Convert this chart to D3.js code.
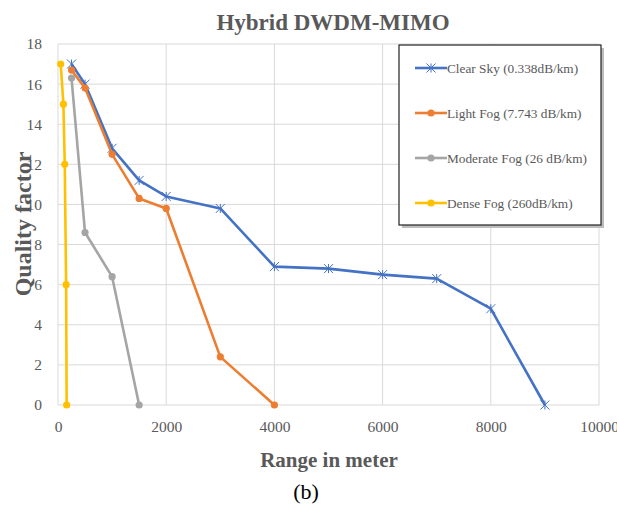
<!DOCTYPE html>
<html>
<head>
<meta charset="utf-8">
<script src="https://cdn.jsdelivr.net/npm/d3@7"></script>
<style>
  body { margin: 0; background: #fff; }
</style>
</head>
<body>
<script>
// series data
const seriesNames = [
  "Clear Sky (0.338dB/km)",
  "Light Fog (7.743 dB/km)",
  "Moderate Fog (26 dB/km)",
  "Dense Fog (260dB/km)"
];
const clearSkyRange = [250, 500, 1000, 1500, 2000, 3000, 4000, 5000, 6000, 7000, 8000, 9000];
const clearSkyQ = [17.0, 16.0, 12.8, 11.2, 10.4, 9.8, 6.9, 6.8, 6.5, 6.3, 4.8, 0];
const lightFogRange = [250, 500, 1000, 1500, 2000, 3000, 4000];
const lightFogQ = [16.7, 15.8, 12.5, 10.3, 9.8, 2.4, 0];
const moderateFogRange = [250, 500, 1000, 1500];
const moderateFogQ = [16.3, 8.6, 6.4, 0];
const denseFogRange = [50, 100, 125, 150, 160];
const denseFogQ = [17.0, 15.0, 12.0, 6.0, 0];

const xTicks = [0, 2000, 4000, 6000, 8000, 10000];
const yTicks = [0, 2, 4, 6, 8, 10, 12, 14, 16, 18];

const FONT = '"Liberation Serif"';
const colors = ["#4472C4", "#ED7D31", "#A5A5A5", "#FFC000"];
const markers = ["star", "circle", "circle", "circle"];

const series = [
  [clearSkyRange, clearSkyQ],
  [lightFogRange, lightFogQ],
  [moderateFogRange, moderateFogQ],
  [denseFogRange, denseFogQ]
].map(([xs, ys], i) => ({
  name: seriesNames[i],
  color: colors[i],
  marker: markers[i],
  values: xs.map((x, j) => ({ x: x, y: ys[j] }))
}));

const width = 617;
const height = 509;
const margin = { top: 44, right: 18, bottom: 104, left: 58 };

const svg = d3.select("body")
  .append("svg")
  .attr("width", width)
  .attr("height", height);

const x = d3.scaleLinear().domain([0, 10000]).range([margin.left, width - margin.right]);
const y = d3.scaleLinear().domain([0, 18]).range([height - margin.bottom, margin.top]);

// gridlines
svg.append("g")
  .selectAll("line.h")
  .data(yTicks)
  .enter()
  .append("line")
  .attr("x1", x(0)).attr("x2", x(10000))
  .attr("y1", d => y(d)).attr("y2", d => y(d))
  .attr("stroke", "#d9d9d9").attr("stroke-width", 1);

svg.append("g")
  .selectAll("line.v")
  .data(xTicks)
  .enter()
  .append("line")
  .attr("x1", d => x(d)).attr("x2", d => x(d))
  .attr("y1", y(0)).attr("y2", y(18))
  .attr("stroke", "#d9d9d9").attr("stroke-width", 1);

// axes (labels only, Excel style)
const xAxis = svg.append("g")
  .attr("transform", `translate(0,${y(0) + 13})`)
  .call(d3.axisBottom(x).tickValues(xTicks).tickSize(0).tickFormat(d3.format("d")));
xAxis.attr("font-family", null).attr("font-size", null);
xAxis.select(".domain").remove();
xAxis.selectAll("text")
  .attr("fill", "#595959")
  .style("font-size", "15.5px")
  .style("font-family", FONT);

const yAxis = svg.append("g")
  .attr("transform", `translate(${x(0) - 13},0)`)
  .call(d3.axisLeft(y).tickValues(yTicks).tickSize(0));
yAxis.attr("font-family", null).attr("font-size", null);
yAxis.select(".domain").remove();
yAxis.selectAll("text")
  .attr("fill", "#595959")
  .style("font-size", "15.5px")
  .style("font-family", FONT);

// lines
const line = d3.line().x(d => x(d.x)).y(d => y(d.y));

const gSeries = svg.append("g")
  .selectAll("g.series")
  .data(series)
  .enter()
  .append("g");

gSeries.append("path")
  .attr("d", d => line(d.values))
  .attr("fill", "none")
  .attr("stroke", d => d.color)
  .attr("stroke-width", 2.6)
  .attr("stroke-linejoin", "round");

function drawMarker(sel, s, cx, cy) {
  if (s.marker === "circle") {
    sel.append("circle")
      .attr("cx", cx).attr("cy", cy).attr("r", 3.6)
      .attr("fill", s.color);
  } else {
    const r = 4.5;
    const p = `M${cx - r},${cy - r}L${cx + r},${cy + r}M${cx - r},${cy + r}L${cx + r},${cy - r}M${cx},${cy - r}L${cx},${cy + r}`;
    sel.append("path")
      .attr("d", p)
      .attr("stroke", s.color)
      .attr("stroke-width", 1)
      .attr("fill", "none");
  }
}

gSeries.each(function(s) {
  const g = d3.select(this);
  s.values.forEach(v => drawMarker(g, s, x(v.x), y(v.y)));
});

// title
svg.append("text")
  .attr("x", 333)
  .attr("y", 30)
  .attr("text-anchor", "middle")
  .attr("fill", "#595959")
  .style("font-family", FONT)
  .style("font-size", "23px")
  .style("font-weight", "bold")
  .text("Hybrid DWDM-MIMO");

// axis titles
svg.append("text")
  .attr("x", 329)
  .attr("y", 467)
  .attr("text-anchor", "middle")
  .attr("fill", "#595959")
  .style("font-family", FONT)
  .style("font-size", "21px")
  .style("font-weight", "bold")
  .text("Range in meter");

svg.append("text")
  .attr("transform", "translate(31,224) rotate(-90)")
  .attr("text-anchor", "middle")
  .attr("fill", "#595959")
  .style("font-family", FONT)
  .style("font-size", "24px")
  .style("font-weight", "bold")
  .text("Quality factor");

svg.append("text")
  .attr("x", 306)
  .attr("y", 499)
  .attr("text-anchor", "middle")
  .attr("fill", "#000")
  .style("font-family", FONT)
  .style("font-size", "22px")
  .text("(b)");

// legend
const legend = svg.append("g").attr("transform", "translate(399,45)");
const lw = 202, lh = 180;

legend.append("rect")
  .attr("x", 3).attr("y", 3)
  .attr("width", lw).attr("height", lh)
  .attr("fill", "#bdbdbd");
legend.append("rect")
  .attr("width", lw).attr("height", lh)
  .attr("fill", "#fff")
  .attr("stroke", "#222")
  .attr("stroke-width", 1.2);

const rowY = d3.scalePoint().domain(seriesNames).range([23, 158]);

const rows = legend.selectAll("g.row")
  .data(series)
  .enter()
  .append("g")
  .attr("transform", d => `translate(0,${rowY(d.name)})`);

rows.append("line")
  .attr("x1", 16).attr("x2", 48)
  .attr("stroke", d => d.color)
  .attr("stroke-width", 2.6);

rows.each(function(s) {
  drawMarker(d3.select(this), s, 32, 0);
});

rows.append("text")
  .attr("x", 48)
  .attr("y", 5)
  .attr("fill", "#595959")
  .style("font-family", FONT)
  .style("font-size", "13.3px")
  .text(d => d.name);
</script>
</body>
</html>
